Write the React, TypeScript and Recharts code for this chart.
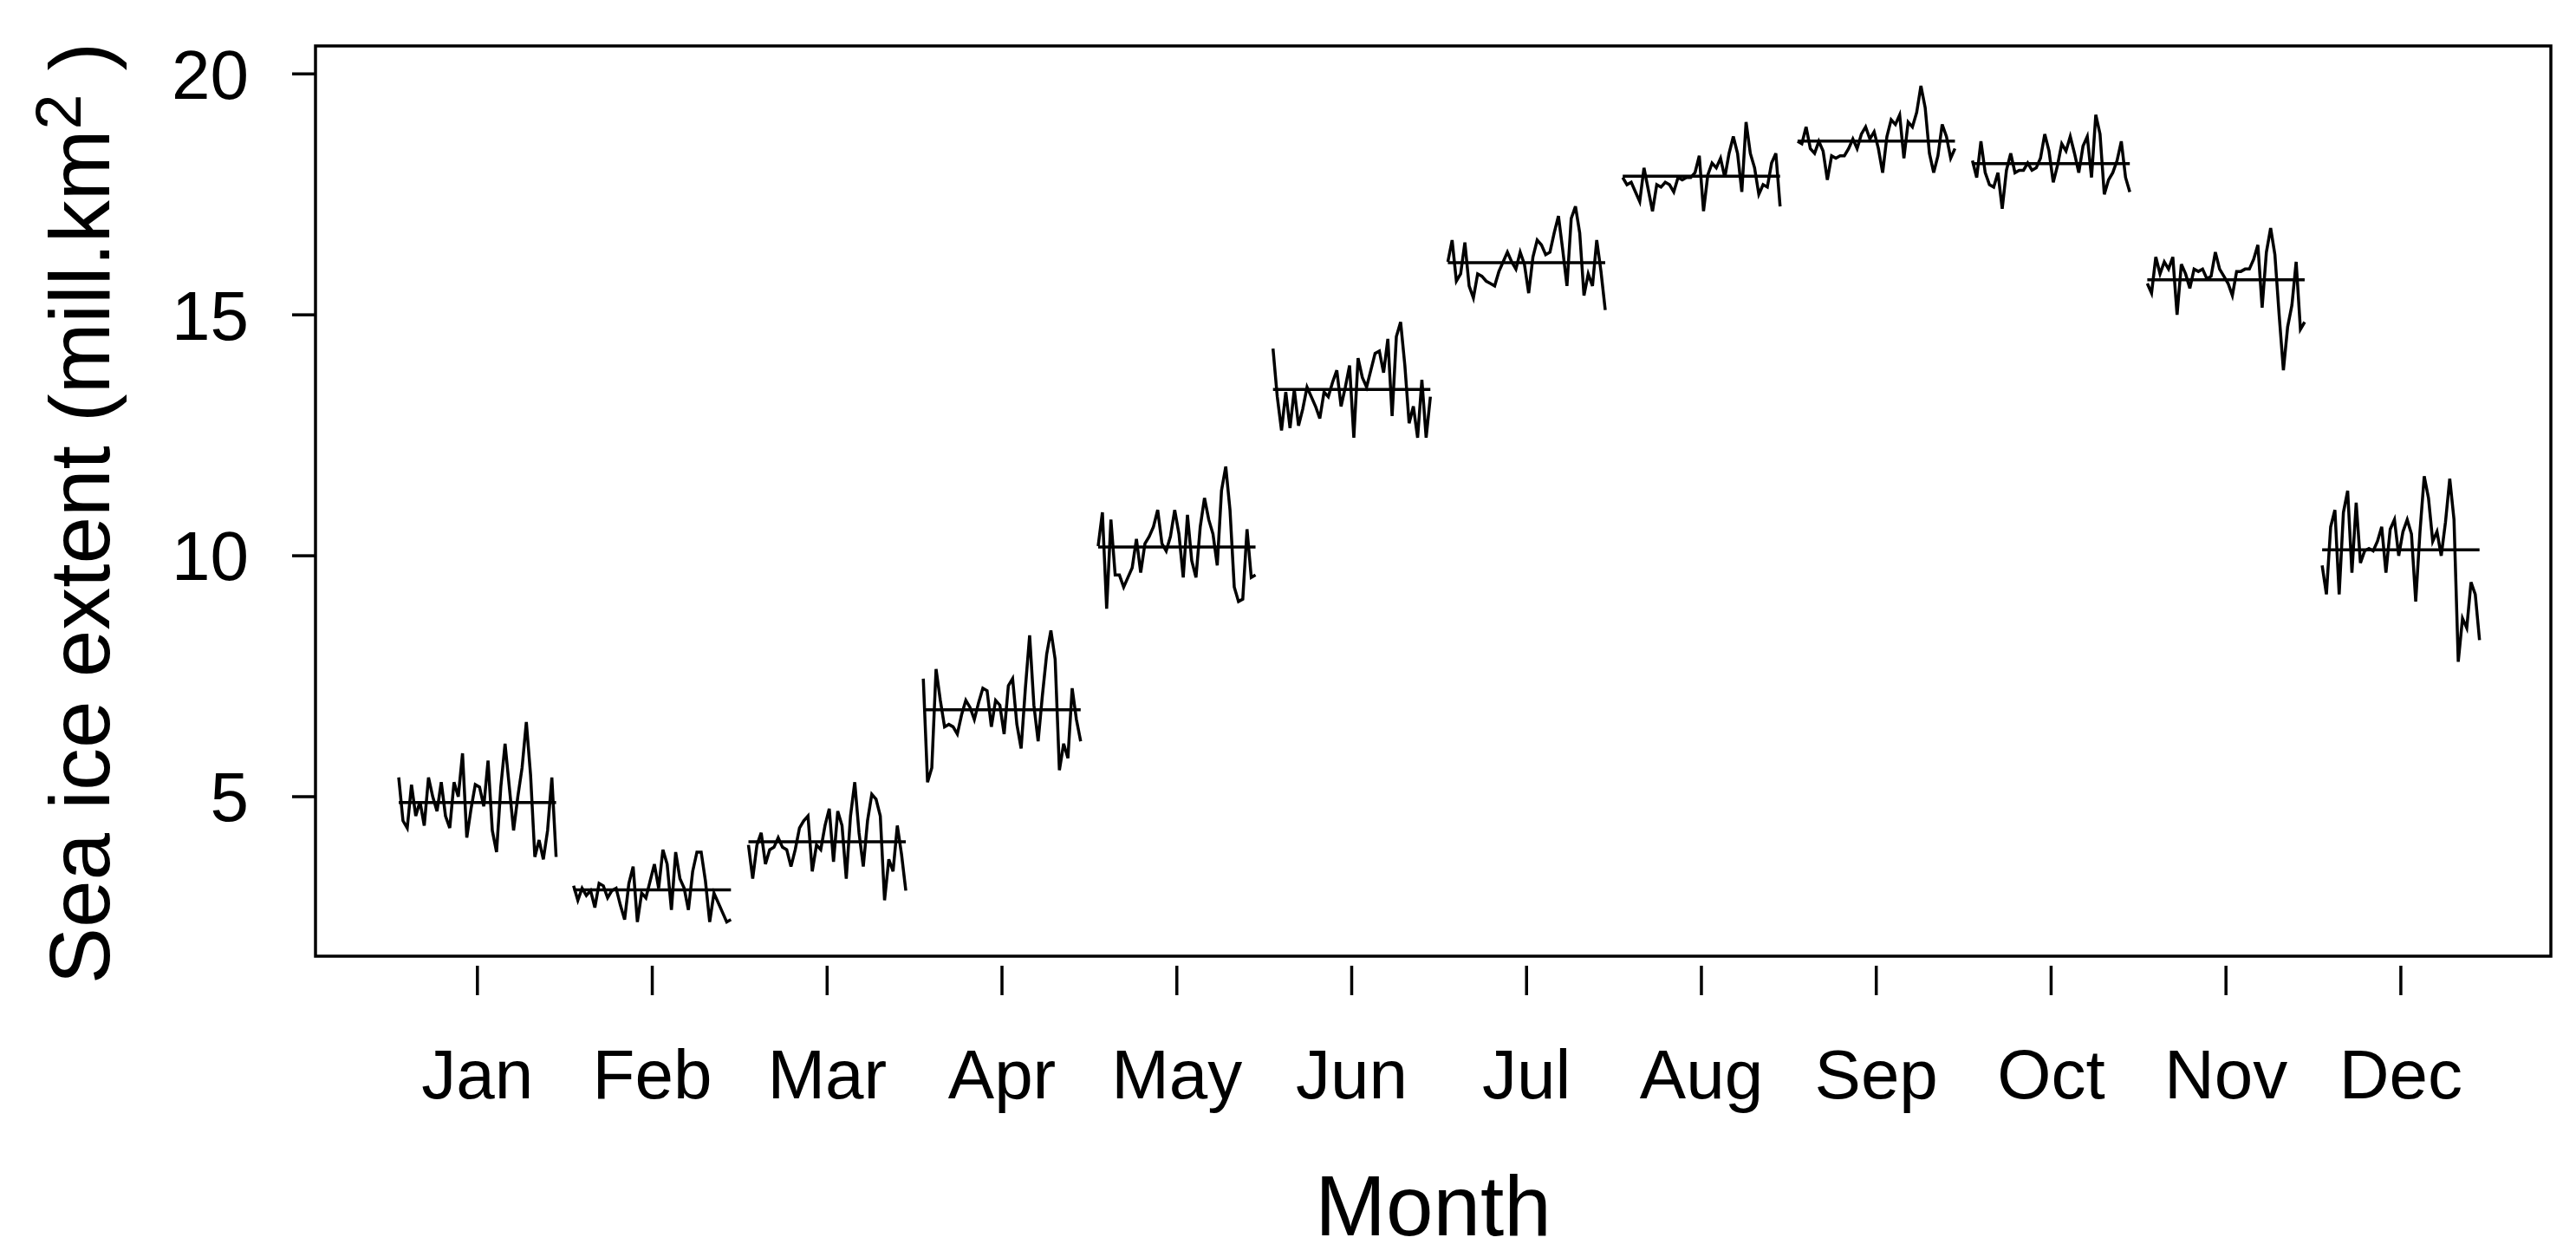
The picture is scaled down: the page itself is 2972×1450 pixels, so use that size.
import { ComposedChart, Line, XAxis, YAxis, ReferenceArea } from "recharts";

const months = ["Jan", "Feb", "Mar", "Apr", "May", "Jun", "Jul", "Aug", "Sep", "Oct", "Nov", "Dec"];
const monthTicks = [1, 2, 3, 4, 5, 6, 7, 8, 9, 10, 11, 12];
const yTicks = [5, 10, 15, 20];

// yearly sea ice extent per month
const jan = [5.4, 4.5, 4.35, 5.25, 4.6, 4.9, 4.4, 5.4, 5.0, 4.7, 5.3, 4.6, 4.35, 5.3, 5.0, 5.9, 4.15, 4.75, 5.25, 5.2, 4.8, 5.75, 4.3, 3.85, 5.2, 6.1, 5.2, 4.3, 5.0, 5.6, 6.55, 5.45, 3.75, 4.1, 3.7, 4.3, 5.4, 3.75];
const feb = [3.15, 2.85, 3.1, 2.95, 3.05, 2.7, 3.2, 3.15, 2.9, 3.05, 3.1, 2.75, 2.45, 3.2, 3.55, 2.4, 3.0, 2.9, 3.25, 3.6, 3.1, 3.9, 3.6, 2.65, 3.85, 3.3, 3.1, 2.65, 3.45, 3.85, 3.85, 3.25, 2.4, 3.0, 2.8, 2.6, 2.4, 2.45];
const mar = [4.0, 3.3, 4.0, 4.25, 3.6, 3.9, 3.95, 4.15, 3.95, 3.9, 3.55, 3.9, 4.35, 4.5, 4.6, 3.45, 4.0, 3.9, 4.4, 4.75, 3.65, 4.7, 4.4, 3.3, 4.6, 5.3, 4.25, 3.55, 4.5, 5.05, 4.95, 4.6, 2.85, 3.7, 3.45, 4.4, 3.8, 3.05];
const apr = [7.45, 5.3, 5.6, 7.65, 7.0, 6.45, 6.5, 6.45, 6.3, 6.7, 7.0, 6.85, 6.6, 6.95, 7.25, 7.2, 6.45, 7.0, 6.9, 6.3, 7.3, 7.45, 6.5, 6.0, 7.25, 8.35, 6.9, 6.15, 7.1, 7.95, 8.45, 7.85, 5.55, 6.1, 5.8, 7.25, 6.6, 6.15];
const may = [10.2, 10.9, 8.9, 10.75, 9.6, 9.6, 9.35, 9.55, 9.75, 10.35, 9.65, 10.25, 10.4, 10.6, 10.95, 10.25, 10.1, 10.4, 10.95, 10.45, 9.55, 10.85, 9.9, 9.55, 10.6, 11.2, 10.75, 10.45, 9.8, 11.35, 11.85, 10.95, 9.35, 9.05, 9.1, 10.55, 9.55, 9.6];
const jun = [14.3, 13.3, 12.6, 13.4, 12.65, 13.45, 12.7, 13.05, 13.5, 13.3, 13.1, 12.85, 13.4, 13.3, 13.6, 13.85, 13.1, 13.5, 13.95, 12.45, 14.1, 13.7, 13.5, 13.85, 14.2, 14.25, 13.8, 14.5, 12.9, 14.55, 14.85, 13.95, 12.75, 13.1, 12.45, 13.65, 12.45, 13.3];
const jul = [16.1, 16.55, 15.7, 15.85, 16.5, 15.6, 15.35, 15.85, 15.8, 15.7, 15.65, 15.6, 15.9, 16.1, 16.3, 16.1, 15.95, 16.3, 16.05, 15.45, 16.2, 16.55, 16.45, 16.25, 16.3, 16.7, 17.05, 16.35, 15.6, 17.0, 17.25, 16.7, 15.4, 15.85, 15.6, 16.55, 15.9, 15.1];
const aug = [17.85, 17.7, 17.75, 17.55, 17.35, 18.05, 17.6, 17.15, 17.7, 17.65, 17.75, 17.7, 17.55, 17.85, 17.8, 17.85, 17.85, 17.95, 18.3, 17.15, 17.9, 18.15, 18.05, 18.25, 17.85, 18.35, 18.7, 18.35, 17.55, 19.0, 18.35, 18.05, 17.5, 17.7, 17.65, 18.15, 18.35, 17.25];
const sep = [18.6, 18.55, 18.9, 18.45, 18.35, 18.6, 18.4, 17.8, 18.3, 18.25, 18.3, 18.3, 18.45, 18.65, 18.45, 18.75, 18.9, 18.65, 18.8, 18.45, 17.95, 18.7, 19.05, 18.95, 19.15, 18.25, 19.0, 18.9, 19.2, 19.75, 19.3, 18.35, 17.95, 18.3, 18.95, 18.7, 18.25, 18.45];
const oct = [18.2, 17.85, 18.6, 17.95, 17.7, 17.65, 17.95, 17.2, 18.0, 18.35, 17.95, 18.0, 18.0, 18.15, 18.0, 18.05, 18.25, 18.75, 18.4, 17.75, 18.1, 18.55, 18.4, 18.7, 18.35, 17.95, 18.5, 18.7, 17.85, 19.15, 18.75, 17.5, 17.8, 17.95, 18.2, 18.6, 17.85, 17.55];
const nov = [15.65, 15.45, 16.2, 15.85, 16.1, 15.95, 16.2, 15.0, 16.05, 15.85, 15.55, 15.95, 15.9, 15.95, 15.75, 15.8, 16.3, 15.95, 15.8, 15.65, 15.4, 15.9, 15.9, 15.95, 15.95, 16.15, 16.45, 15.15, 16.3, 16.8, 16.25, 15.0, 13.85, 14.75, 15.2, 16.1, 14.7, 14.85];
const dec = [9.8, 9.2, 10.6, 10.95, 9.2, 10.9, 11.35, 9.65, 11.1, 9.85, 10.1, 10.15, 10.1, 10.3, 10.6, 9.65, 10.55, 10.75, 10.0, 10.5, 10.75, 10.45, 9.05, 10.5, 11.65, 11.2, 10.3, 10.5, 10.0, 10.7, 11.6, 10.75, 7.8, 8.7, 8.5, 9.45, 9.2, 8.25];

const series = [jan, feb, mar, apr, may, jun, jul, aug, sep, oct, nov, dec];

// monthplot style: each month's years spread over +-0.45 around the month position
const half = 0.45;
const subseries = series.map((vals, i) =>
  vals.map((v, j) => ({ x: i + 1 - half + (2 * half * j) / (vals.length - 1), v }))
);
const baseLines = series.map((vals, i) => {
  const m = vals.reduce((a, b) => a + b, 0) / vals.length;
  return [
    { x: i + 1 - half, v: m },
    { x: i + 1 + half, v: m },
  ];
});

const X_DOMAIN: [number, number] = [0.074, 12.858];
const Y_DOMAIN: [number, number] = [1.69, 20.58];
const FONT = "'Liberation Sans', Arial, sans-serif";

const MonthTick = (props: any) => {
  const { x, y, payload } = props;
  return (
    <g>
      <line x1={x} x2={x} y1={y + 11} y2={y + 45} stroke="#000" strokeWidth={3.5} />
      <text x={x} y={y + 164} textAnchor="middle" fontSize={80} fontFamily={FONT} fill="#000">
        {months[payload.value - 1]}
      </text>
    </g>
  );
};

const XTitle = (props: any) => {
  const { viewBox } = props;
  return (
    <text x={viewBox.x + viewBox.width / 2} y={viewBox.y + 322} textAnchor="middle" fontSize={98} fontFamily={FONT} fill="#000">
      Month
    </text>
  );
};

const YTitle = (props: any) => {
  const { viewBox } = props;
  const cx = 126;
  const cy = viewBox.y + viewBox.height / 2 + 14;
  return (
    <text x={cx} y={cy} transform={`rotate(-90 ${cx} ${cy})`} textAnchor="middle" fontSize={98} fontFamily={FONT} fill="#000">
      Sea ice extent (mill.km
      <tspan dy="-0.45em" fontSize="0.75em">2</tspan>
      <tspan dy="0.34em"> )</tspan>
    </text>
  );
};

export default function App() {
  return (
    <div style={{ position: "absolute", left: 0, top: 0, background: "#fff" }}>
      <ComposedChart width={2972} height={1450} margin={{ top: 53, right: 29, bottom: 147, left: 64 }}>
        <XAxis
          dataKey="x"
          type="number"
          domain={X_DOMAIN}
          allowDataOverflow
          ticks={monthTicks}
          interval={0}
          height={200}
          axisLine={false}
          tickLine={false}
          tickSize={0}
          tickMargin={0}
          tick={<MonthTick />}
          label={<XTitle />}
        />
        <YAxis
          type="number"
          domain={Y_DOMAIN}
          allowDataOverflow
          ticks={yTicks}
          width={300}
          axisLine={false}
          tickLine={{ stroke: "#000", strokeWidth: 3.5 }}
          tickSize={27}
          tickMargin={50}
          tick={{ fontSize: 80, fontFamily: FONT, fill: "#000" }}
          label={<YTitle />}
        />
        <ReferenceArea
          x1={X_DOMAIN[0]}
          x2={X_DOMAIN[1]}
          y1={Y_DOMAIN[0]}
          y2={Y_DOMAIN[1]}
          ifOverflow="visible"
          fill="none"
          stroke="#000"
          strokeWidth={3.5}
        />
        {subseries.map((d, i) => (
          <Line
            key={"s" + i}
            data={d}
            dataKey="v"
            type="linear"
            dot={false}
            activeDot={false}
            stroke="#000"
            strokeWidth={3.5}
            isAnimationActive={false}
          />
        ))}
        {baseLines.map((d, i) => (
          <Line
            key={"m" + i}
            data={d}
            dataKey="v"
            type="linear"
            dot={false}
            activeDot={false}
            stroke="#000"
            strokeWidth={3.5}
            isAnimationActive={false}
          />
        ))}
      </ComposedChart>
    </div>
  );
}
